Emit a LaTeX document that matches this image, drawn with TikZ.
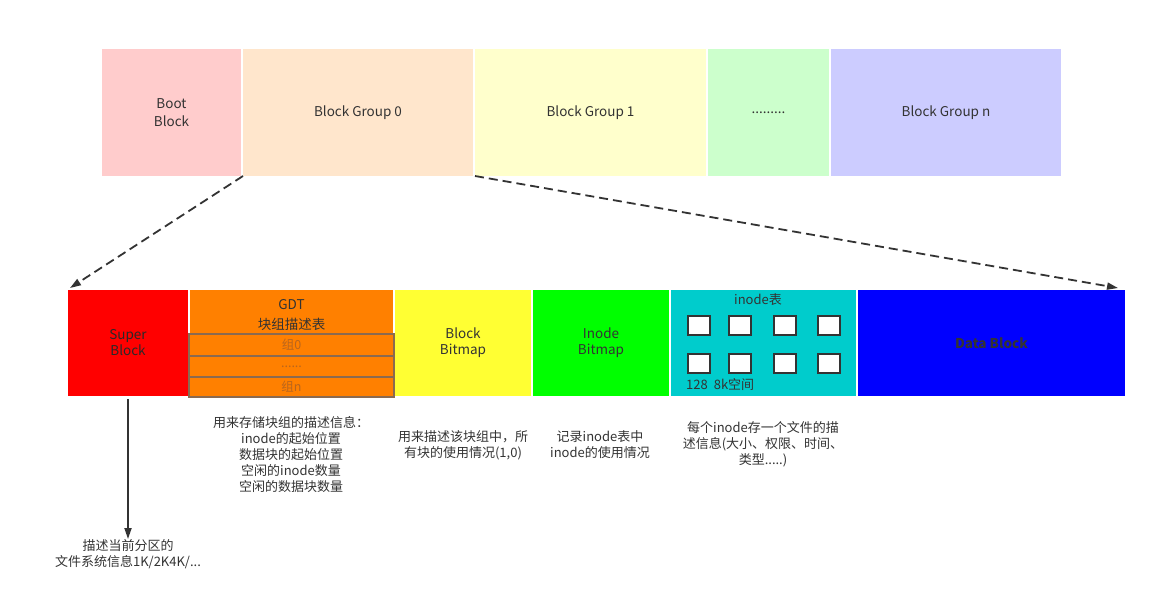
\documentclass[tikz,border=0pt]{standalone}
\usepackage{fontspec}
\setmainfont{Noto Sans CJK SC}
\usetikzlibrary{arrows.meta,calc}
\definecolor{txt}{HTML}{333333}
\definecolor{cboot}{HTML}{FFCCCC}
\definecolor{cbg0}{HTML}{FFE6CC}
\definecolor{cbg1}{HTML}{FFFFCC}
\definecolor{cdots}{HTML}{CCFFCC}
\definecolor{cbgn}{HTML}{CCCCFF}
\definecolor{csb}{HTML}{FF0000}
\definecolor{cgdt}{HTML}{FF8000}
\definecolor{cbb}{HTML}{FFFF33}
\definecolor{cib}{HTML}{00FF00}
\definecolor{cit}{HTML}{00CCCC}
\definecolor{cdb}{HTML}{0000FF}
\definecolor{subtxt}{HTML}{B8651E}
\definecolor{subline}{HTML}{8A6A50}
\begin{document}
\begin{tikzpicture}[x=1pt,y=-1pt,
  box/.style={anchor=north west,inner sep=0pt,outer sep=0pt,draw=none,text=txt,font=\fontsize{13.5}{18}\selectfont,align=center},
  sub/.style={anchor=north west,inner sep=0pt,outer sep=0pt,draw=subline,line width=1.5pt,fill=cgdt,text=subtxt,font=\fontsize{12.5}{14}\selectfont},
  sq/.style={anchor=north west,inner sep=0pt,draw=txt,line width=2pt,fill=white,minimum width=22pt,minimum height=19pt},
  desc/.style={text=txt,font=\fontsize{13}{16}\selectfont,align=center,inner sep=0pt},
  dasharrow/.style={draw=txt,line width=1.8pt,dash pattern=on 9pt off 5pt,-{Triangle[length=11pt,width=7pt]}},
  solidarrow/.style={draw=txt,line width=1.8pt,-{Triangle[length=11pt,width=7pt]}}]
\useasboundingbox (0,0) rectangle (1158,607);
\fill[white] (0,0) rectangle (1158,607);
% top row
\node[box,fill=cboot,minimum width=139pt,minimum height=127pt] (boot) at (102,49) {Boot\\Block};
\node[box,fill=cbg0,minimum width=230pt,minimum height=127pt] (bg0) at (243,49) {Block Group 0};
\node[box,fill=cbg1,minimum width=231pt,minimum height=127pt] (bg1) at (475,49) {Block Group 1};
\node[box,fill=cdots,minimum width=121pt,minimum height=127pt] (bgd) at (708,49) {.........};
\node[box,fill=cbgn,minimum width=230pt,minimum height=127pt] (bgn) at (831,49) {Block Group n};
% bottom row
\node[box,fill=csb,minimum width=120pt,minimum height=106pt,font=\fontsize{13.5}{16}\selectfont,text=txt!80!black] (sb) at (68,290) {Super\\Block};
\node[box,fill=cgdt,minimum width=203pt,minimum height=106pt] (gdt) at (190,290) {};
\node[text=txt,font=\fontsize{13.5}{20}\selectfont,align=center,anchor=north,inner sep=0pt] (gdtl) at (291.5,299) {GDT\\块组描述表};
\node[sub,minimum width=205pt,minimum height=22pt] (g0) at (189,334) {组0};
\node[sub,minimum width=205pt,minimum height=21pt] (gd) at (189,356) {......};
\node[sub,minimum width=205pt,minimum height=20pt] (gn) at (189,377) {组n};
\node[box,fill=cbb,minimum width=136pt,minimum height=106pt,font=\fontsize{13.5}{16}\selectfont] (bb) at (395,290) {Block\\Bitmap};
\node[box,fill=cib,minimum width=136pt,minimum height=106pt,font=\fontsize{13.5}{16}\selectfont] (ib) at (533,290) {Inode\\Bitmap};
\node[box,fill=cit,minimum width=185pt,minimum height=106pt] (it) at (671,290) {};
\node[box,fill=cdb,minimum width=267pt,minimum height=106pt,font=\bfseries\fontsize{13.5}{16}\selectfont] (db) at (858,290) {Data Block};
% inode table contents
\node[text=txt,font=\fontsize{13}{14}\selectfont,inner sep=0pt] (itl) at (758,300) {inode表};
\node[sq] (s1) at (687,315) {};
\node[sq] (s2) at (728,315) {};
\node[sq] (s3) at (773,315) {};
\node[sq] (s4) at (817,315) {};
\node[sq] (s5) at (687,353) {};
\node[sq] (s6) at (728,353) {};
\node[sq] (s7) at (773,353) {};
\node[sq] (s8) at (817,353) {};
\node[text=txt,font=\fontsize{13}{14}\selectfont,inner sep=0pt,anchor=west] (itn) at (686,385) {128\hspace{6pt}8k空间};
% descriptions
\node[desc,anchor=north] (dgdt) at (291,416) {用来存储块组的描述信息：\\inode的起始位置\\数据块的起始位置\\空闲的inode数量\\空闲的数据块数量};
\node[desc,anchor=north] (dbb) at (463,430) {用来描述该块组中，所\\有块的使用情况(1,0)};
\node[desc,anchor=north] (dib) at (600,430) {记录inode表中\\inode的使用情况};
\node[desc,anchor=north] (dit) at (763,421) {每个inode存一个文件的描\\述信息(大小、权限、时间、\\类型.....)};
\node[desc,anchor=north] (dsb) at (128,539) {描述当前分区的\\文件系统信息1K/2K4K/...};
% arrows
\draw[dasharrow] (bg0.south west) -- ($(sb.north west)+(2,-2)$);
\draw[dasharrow] (bg1.south west) -- ($(db.north east)+(-7,-2)$);
\draw[solidarrow] ($(sb.south)+(0,3)$) -- (dsb.north);
\end{tikzpicture}
\end{document}
